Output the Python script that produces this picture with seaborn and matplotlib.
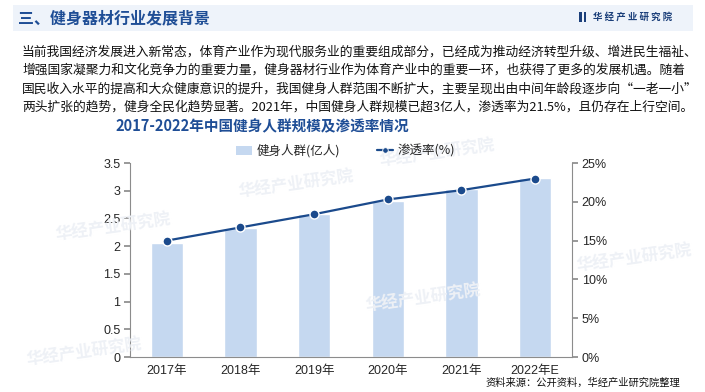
import numpy as np
import pandas as pd
import matplotlib
matplotlib.use('Agg')
import matplotlib.pyplot as plt
import seaborn as sns
from matplotlib.patches import Rectangle
from matplotlib.lines import Line2D

# 数据
years = ['2017年', '2018年', '2019年', '2020年', '2021年', '2022年E']
people = [2.06, 2.33, 2.58, 2.82, 3.03, 3.23]       # 健身人群(亿人)
rate = [15.0, 16.7, 18.4, 20.3, 21.5, 23.0]         # 渗透率(%)
left_ticks = [0, 0.5, 1, 1.5, 2, 2.5, 3, 3.5]
left_labels = ['0', '0.5', '1', '1.5', '2', '2.5', '3', '3.5']
right_ticks = [0, 5, 10, 15, 20, 25]

paragraph = [
    '当前我国经济发展进入新常态，体育产业作为现代服务业的重要组成部分，已经成为推动经济转型升级、增进民生福祉、',
    '增强国家凝聚力和文化竞争力的重要力量，健身器材行业作为体育产业中的重要一环，也获得了更多的发展机遇。随着',
    '国民收入水平的提高和大众健康意识的提升，我国健身人群范围不断扩大，主要呈现出由中间年龄段逐步向“一老一小”',
    '两头扩张的趋势，健身全民化趋势显著。2021年，中国健身人群规模已超3亿人，渗透率为21.5%，且仍存在上行空间。',
]

sns.set_theme(style='white')
CJK = ['Noto Sans CJK SC', 'DejaVu Sans']
NUM = ['Liberation Sans', 'Noto Sans CJK SC']
plt.rcParams['font.family'] = CJK
plt.rcParams['axes.unicode_minus'] = False

bar_color = '#c5d8f0'
line_color = '#1b4a8c'
title_color = '#1f4e96'
axis_color = '#8c8c8c'

df = pd.DataFrame({'year': years, 'people': people, 'rate': rate})

fig = plt.figure(figsize=(7.05, 3.92), dpi=100)

# 页眉
fig.patches.append(Rectangle((0.018, 1 - 31 / 392), 0.965, 26 / 392, transform=fig.transFigure,
                             facecolor='#eef3fa', edgecolor='none', zorder=0))
fig.text(0.026, 1 - 18 / 392, '三、健身器材行业发展背景', fontsize=11.5, fontweight='bold',
         color=title_color, va='center', ha='left')
fig.patches.append(Rectangle((579 / 705, 1 - 22 / 392), 2.5 / 705, 10 / 392, transform=fig.transFigure,
                             facecolor='#1b3f7a', edgecolor='none'))
fig.patches.append(Rectangle((583.5 / 705, 1 - 22 / 392), 2.5 / 705, 10 / 392, transform=fig.transFigure,
                             facecolor='#1b3f7a', edgecolor='none'))
fig.text(593 / 705, 1 - 17 / 392, ' '.join('华经产业研究院'), fontsize=6.8, fontweight='bold',
         color='#1b3f7a', va='center', ha='left')

# 水印
for wx, wy in [(0.42, 0.53), (0.62, 0.61), (0.16, 0.42), (0.60, 0.24), (0.12, 0.10), (0.90, 0.34)]:
    fig.text(wx, wy, '华经产业研究院', fontsize=12, fontweight='bold', color='#eef1f6',
             rotation=8, ha='center', va='center', zorder=0)

# 正文
for i, line in enumerate(paragraph):
    fig.text(22 / 705, 1 - (52 + i * 18.4) / 392, line, fontsize=9.2, color='#111111',
             va='center', ha='left')

fig.text(0.372, 1 - 126 / 392, '2017-2022年中国健身人群规模及渗透率情况', fontsize=10.5,
         fontweight='bold', color=title_color, ha='center', va='center')

# 图表
ax = fig.add_axes([130 / 705, 1 - 357 / 392, 442 / 705, 194 / 392])
ax.set_facecolor('none')
sns.barplot(data=df, x='year', y='people', color=bar_color, width=0.44, ax=ax,
            saturation=1, zorder=2)
ax.set_ylim(0, 3.5)
ax.set_xlim(-0.5, len(years) - 0.5)
ax.set_yticks(left_ticks)
ax.set_yticklabels(left_labels, family=NUM, fontsize=9)
ax.set_xticks(range(len(years)))
ax.set_xticklabels(years, family=NUM, fontsize=9)
ax.set_xticks(np.arange(len(years) + 1) - 0.5, minor=True)
ax.tick_params(axis='x', which='major', length=0, pad=6)
ax.tick_params(axis='x', which='minor', length=4, color=axis_color, direction='out')
ax.tick_params(axis='y', length=4, color=axis_color, direction='out', left=True, pad=3)
ax.set_xlabel('')
ax.set_ylabel('')
for s in ['top', 'right']:
    ax.spines[s].set_visible(False)
for s in ['left', 'bottom']:
    ax.spines[s].set_color(axis_color)
    ax.spines[s].set_linewidth(0.8)

ax2 = ax.twinx()
sns.lineplot(x=np.arange(len(years)), y=df['rate'], ax=ax2, color=line_color, linewidth=1.6,
             marker='o', markersize=6.5, markerfacecolor=line_color, markeredgecolor='white',
             markeredgewidth=1.0, zorder=3)
ax2.set_ylim(0, 25)
ax2.set_yticks(right_ticks)
ax2.set_yticklabels([f'{t}%' for t in right_ticks], family=NUM, fontsize=9)
ax2.tick_params(axis='y', length=4, color=axis_color, direction='out', right=True, pad=3)
ax2.set_ylabel('')
for s in ['top', 'left', 'bottom']:
    ax2.spines[s].set_visible(False)
ax2.spines['right'].set_color(axis_color)
ax2.spines['right'].set_linewidth(0.8)

# 图例
h1 = Rectangle((0, 0), 1, 1, facecolor=bar_color, edgecolor='none')
h2 = Line2D([0], [0], color=line_color, linewidth=1.6, marker='o', markersize=4,
            markerfacecolor=line_color, markeredgecolor='white', markeredgewidth=0.6)
fig.legend([h1, h2], ['健身人群(亿人)', '渗透率(%)'], loc='center', ncol=2,
           bbox_to_anchor=(0.49, 1 - 151 / 392), frameon=False, fontsize=9,
           handlelength=1.3, handleheight=0.8, columnspacing=3.0, handletextpad=0.3)

fig.text(680 / 705, 1 - 383 / 392, '资料来源：公开资料，华经产业研究院整理', fontsize=7.4,
         color='#111111', ha='right', va='center')

fig.savefig('out.png', dpi=100)
